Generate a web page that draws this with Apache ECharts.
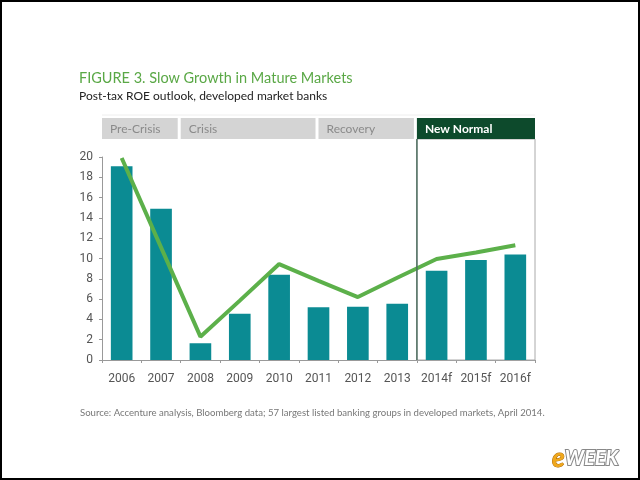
<!DOCTYPE html>
<html>
<head>
<meta charset="utf-8">
<script src="https://cdn.jsdelivr.net/npm/echarts@6/dist/echarts.min.js"></script>
<style>
  html, body { margin: 0; padding: 0; background: #fff; }
  #chart { width: 640px; height: 480px; }
</style>
</head>
<body>
<div id="chart"></div>
<script>
// data
var years = ['2006', '2007', '2008', '2009', '2010', '2011', '2012', '2013', '2014f', '2015f', '2016f']
var roeBars = [19.1, 14.9, 1.65, 4.55, 8.4, 5.2, 5.25, 5.55, 8.8, 9.85, 10.4]
var roeLine = [19.9, 11.1, 2.3, 5.85, 9.45, 7.8, 6.2, 8.1, 9.95, 10.6, 11.3]
var yTicks = [0, 20, 2] // min, max, step
// phases, in category index units (start, end)
var phaseNames = ['Pre-Crisis', 'Crisis', 'Recovery', 'New Normal']
var phaseStart = [0, 2, 5.5, 8]
var phaseEnd = [2, 5.5, 8, 11]

var chart = echarts.init(document.getElementById('chart'))

var font = 'Lato, "Open Sans", sans-serif'
var axisFont = 'Roboto, "Liberation Sans", sans-serif'

chart.setOption({
  backgroundColor: '#fff',
  animation: false,
  title: [{
    text: 'FIGURE 3. Slow Growth in Mature Markets',
    left: 74,
    top: 66,
    textStyle: { color: '#5aa846', fontSize: 14.5, fontWeight: 'normal', fontFamily: font }
  }, {
    text: 'Post-tax ROE outlook, developed market banks',
    left: 74,
    top: 85,
    textStyle: { color: '#222', fontSize: 12, fontWeight: 'normal', fontFamily: font }
  }, {
    text: 'Source: Accenture analysis, Bloomberg data; 57 largest listed banking groups in developed markets, April 2014.',
    left: 75,
    top: 403,
    textStyle: { color: '#777', fontSize: 9.6, fontWeight: 'normal', fontFamily: font }
  }],
  grid: { left: 102, right: 105, top: 157, bottom: 120 },
  xAxis: {
    type: 'category',
    data: years,
    axisLine: { lineStyle: { color: '#999' } },
    axisTick: { show: true, length: 3, lineStyle: { color: '#999' } },
    axisLabel: { interval: 0, color: '#555', fontSize: 12, fontFamily: axisFont, margin: 13 }
  },
  yAxis: {
    type: 'value',
    min: yTicks[0],
    max: yTicks[1],
    interval: yTicks[2],
    splitLine: { show: false },
    axisLine: { show: true, lineStyle: { color: '#999' } },
    axisTick: { show: true, length: 3, lineStyle: { color: '#999' } },
    axisLabel: { color: '#555', fontSize: 12, fontFamily: axisFont, margin: 9 }
  },
  series: [{
    type: 'bar',
    data: roeBars,
    barWidth: '55%',
    itemStyle: { color: '#0b8b93' },
    z: 2
  }, {
    type: 'line',
    data: roeLine,
    symbol: 'none',
    lineStyle: { color: '#5cb04a', width: 4 },
    z: 3
  }]
})

// header boxes placed from the category scale
var c0 = chart.convertToPixel({ xAxisIndex: 0 }, 0)
var c1 = chart.convertToPixel({ xAxisIndex: 0 }, 1)
var band = c1 - c0
var x0 = c0 - band / 2
var yBot = chart.convertToPixel({ yAxisIndex: 0 }, yTicks[0])
var boxTop = 118, boxH = 21

var els = []
phaseNames.forEach(function (name, i) {
  var xa = x0 + phaseStart[i] * band
  var xb = x0 + phaseEnd[i] * band
  var last = i === phaseNames.length - 1
  var w = xb - xa - (last ? 0 : 3)
  els.push({
    type: 'rect',
    shape: { x: xa, y: boxTop, width: w, height: boxH },
    style: { fill: last ? '#0d4a2c' : '#d4d4d4' },
    z: 5
  })
  els.push({
    type: 'text',
    x: xa + 8,
    y: boxTop + boxH / 2 + 1,
    style: {
      text: name,
      fill: last ? '#fff' : '#8a8a8a',
      font: (last ? 'bold ' : '') + '12px ' + font,
      verticalAlign: 'middle'
    },
    z: 6
  })
  if (last) {
    els.push({
      type: 'rect',
      shape: { x: xa, y: boxTop + boxH, width: w, height: yBot - boxTop - boxH },
      style: { fill: 'none', stroke: '#aaa', lineWidth: 1 },
      z: 1
    })
    els.push({
      type: 'line',
      shape: { x1: xa, y1: boxTop + boxH, x2: xa, y2: yBot },
      style: { stroke: '#4f6f60', lineWidth: 1.5 },
      z: 4
    })
  }
})

// thin light line over header row
els.push({
  type: 'line',
  shape: { x1: x0, y1: boxTop - 3, x2: x0 + 11 * band, y2: boxTop - 3 },
  style: { stroke: '#eee', lineWidth: 1 },
  z: 1
})

// eWEEK mark
els.push({
  type: 'text',
  x: 552,
  y: 446,
  style: {
    text: '{e|e}{w|WEEK}',
    rich: {
      e: { fill: '#f0a81c', font: 'italic bold 26px ' + font, stroke: '#b06a00', lineWidth: 1 },
      w: { fill: '#ffffff', font: 'italic bold 20px ' + font, stroke: '#888', lineWidth: 2 }
    }
  },
  z: 10
})

// outer frame
els.push({
  type: 'rect',
  shape: { x: 0, y: 0, width: 640, height: 480 },
  style: { fill: 'none', stroke: '#000', lineWidth: 4 },
  z: 20
})

chart.setOption({ graphic: els })
</script>
</body>
</html>
